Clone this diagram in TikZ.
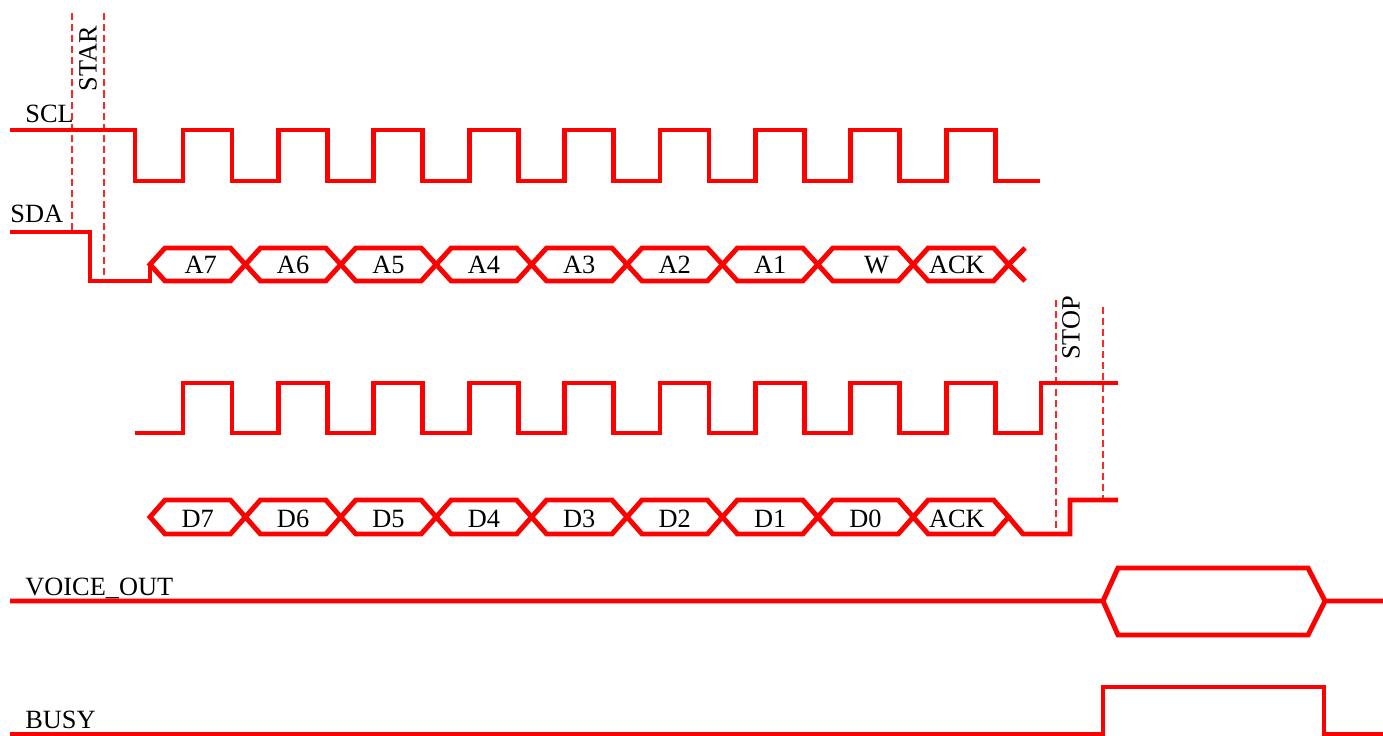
\documentclass[tikz,border=0pt]{standalone}
\usepackage{fontspec}
\setmainfont{Liberation Serif}
\usetikzlibrary{positioning}

\begin{document}
\begin{tikzpicture}[
    x=0.02cm, y=-0.02cm,
    sig/.style={draw=red, line width=2.8pt},
    guide/.style={draw=red!85, line width=0.6pt, dash pattern=on 4pt off 2.3pt},
    lbl/.style={font=\fontsize{15}{18}\selectfont, inner sep=0pt, text=black}
]
    \useasboundingbox (0,0) rectangle (1383,736);

    \node [lbl, anchor=base west] (scl) at (25,123) {SCL};
    \node [lbl, anchor=base west] (sda) at (10,223) {SDA};
    \node [lbl, anchor=base west] (voice) at (25,595) {VOICE\_OUT};
    \node [lbl, anchor=base west] (busy) at (25,728) {BUSY};
    \node [lbl, rotate=90] (star) at (88,59) {STAR};
    \node [lbl, rotate=90] (stop) at (1071,328) {STOP};

    \draw [guide] (72,13) -- (72,232);
    \draw [guide] (104,13) -- (104,281);
    \draw [guide] (1056,300) -- (1056,534);
    \draw [guide] (1103,307) -- (1103,500);

    \draw [sig] (10,130) -- (135,130) -- (135,181)
        \foreach \k in {0,...,8}{ -- ({183+95.4*\k},181) -- ({183+95.4*\k},130)
        -- ({232+95.4*\k},130) -- ({232+95.4*\k},181)} -- (1040,181);

    \draw [sig] (10,232) -- (90,232) -- (90,281) -- (150,281) -- (150,264.5);
    \foreach \t/\dx [count=\k from 0] in {A7/3,A6/0,A5/0,A4/0,A3/0,A2/0,A1/0,W/11,ACK/-4}{
        \pgfmathsetmacro\L{150+95.4*\k}
        \draw [sig] (\L,264.5) -- ({\L+15},248) -- ({\L+80.4},248) -- ({\L+95.4},264.5)
            -- ({\L+80.4},281) -- ({\L+15},281) -- cycle;
        \node [lbl, anchor=base] (a\k) at ({\L+47.7+\dx},274) {\t};
    }
    \draw [sig] (1008.6,264.5) -- (1025,248) (1008.6,264.5) -- (1025,281);

    \draw [sig] (135,433)
        \foreach \k in {0,...,8}{ -- ({183+95.4*\k},433) -- ({183+95.4*\k},383)
        -- ({232+95.4*\k},383) -- ({232+95.4*\k},433)} -- (1041,433) -- (1041,383) -- (1118,383);

    \foreach \t/\dx [count=\k from 0] in {D7/0,D6/0,D5/0,D4/0,D3/0,D2/0,D1/0,D0/0,ACK/-4}{
        \pgfmathsetmacro\L{150+95.4*\k}
        \draw [sig] (\L,517) -- ({\L+15},500) -- ({\L+80.4},500) -- ({\L+95.4},517)
            -- ({\L+80.4},534) -- ({\L+15},534) -- cycle;
        \node [lbl, anchor=base] (d\k) at ({\L+47.7+\dx},527) {\t};
    }
    \draw [sig] (1008.6,517) -- (1023,534) -- (1070,534) -- (1070,500) -- (1118,500);

    \draw [sig] (10,601) -- (1103,601) -- (1118,568) -- (1308,568) -- (1325,601) -- (1383,601);
    \draw [sig] (1103,601) -- (1118,635) -- (1308,635) -- (1325,601);

    \draw [sig] (10,734) -- (1103,734) -- (1103,687) -- (1324,687) -- (1324,734) -- (1383,734);
\end{tikzpicture}
\end{document}
